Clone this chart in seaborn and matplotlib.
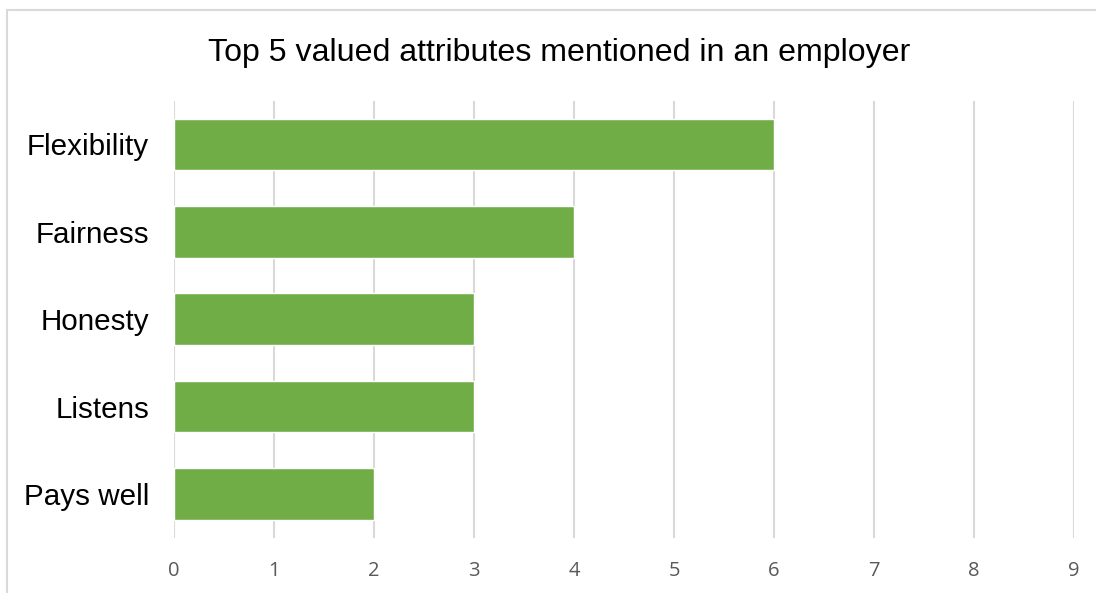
import matplotlib
matplotlib.use("Agg")
import matplotlib.pyplot as plt
import seaborn as sns
import pandas as pd

categories = ["Flexibility", "Fairness", "Honesty", "Listens", "Pays well"]
values = [6, 4, 3, 3, 2]
xticks = [0, 1, 2, 3, 4, 5, 6, 7, 8, 9]
title = "Top 5 valued attributes mentioned in an employer"

df = pd.DataFrame({"attr": categories, "count": values})

sns.set_theme(style="white")
plt.rcParams["font.family"] = ["Liberation Sans", "DejaVu Sans"]

W, H = 1096, 593
fig = plt.figure(figsize=(W / 100, H / 100), dpi=100)
ax = fig.add_axes([174 / W, 1 - 537.75 / H, 900 / W, 437 / H])

sns.barplot(data=df, x="count", y="attr", color="#70ad47", saturation=1,
            width=0.59, ax=ax, orient="h", zorder=3)

ax.set_xlim(0, 9)
ax.set_xticks(xticks)
ax.set_xticklabels([str(t) for t in xticks], fontfamily="Open Sans",
                   fontsize=14.5, color="#595959")
ax.tick_params(axis="x", length=0, pad=17)
ax.tick_params(axis="y", length=0, pad=18, labelsize=21.3, labelcolor="#000000")
ax.grid(axis="x", color="#d9d9d9", linewidth=1.5, zorder=0)
ax.set_axisbelow(True)
for s in ax.spines.values():
    s.set_visible(False)
ax.set_xlabel("")
ax.set_ylabel("")

fig.text(559.5 / W, 1 - 53 / H, title, ha="center", va="center",
         fontsize=23.1, color="#000000")

# chart border (top and left visible)
fig.add_artist(plt.Line2D([7 / W, 7 / W], [0, 1 - 10 / H], transform=fig.transFigure,
                          color="#d9d9d9", linewidth=1.5))
fig.add_artist(plt.Line2D([7 / W, 1], [1 - 10 / H, 1 - 10 / H], transform=fig.transFigure,
                          color="#d9d9d9", linewidth=1.5))

fig.savefig("out.png", dpi=100)
